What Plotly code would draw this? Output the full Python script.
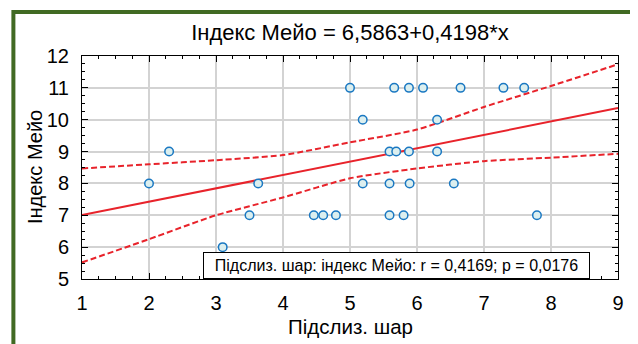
import plotly.graph_objects as go
import numpy as np

# --- data ---
x_vals = [2.0, 2.3, 3.1, 3.5, 3.63,
          5.0, 5.66, 5.88, 6.09, 6.65, 7.29, 7.6,
          5.19, 6.3,
          5.59, 5.69, 5.88, 6.3,
          5.19, 5.59, 5.89, 6.55,
          4.46, 4.6, 4.79, 5.59, 5.8, 7.79]
y_vals = [8, 9, 6, 7, 8,
          11, 11, 11, 11, 11, 11, 11,
          10, 10,
          9, 9, 9, 9,
          8, 8, 8, 8,
          7, 7, 7, 7, 7, 7]

intercept = 6.5863
slope = 0.4198

band_x = [1, 2, 3, 4, 5, 6, 7, 8, 9]
band_upper = [8.47, 8.60, 8.73, 8.89, 9.29, 9.69, 10.40, 11.06, 11.74]
band_lower = [5.52, 6.25, 7.00, 7.56, 8.16, 8.47, 8.70, 8.81, 8.93]

title_text = "Індекс Мейо = 6,5863+0,4198*x"
x_title = "Підслиз. шар"
y_title = "Індекс Мейо"
stat_text = "Підслиз. шар: індекс Мейо: r = 0,4169; p = 0,0176"

x_range = [1, 9]
y_range = [5, 12]

FONT = "Liberation Sans"
RED = "#e8232b"

fig = go.Figure()

line_x = np.array(x_range, dtype=float)
fig.add_trace(go.Scatter(x=line_x, y=intercept + slope * line_x, mode="lines",
                         line=dict(color=RED, width=2), hoverinfo="skip",
                         showlegend=False))
fig.add_trace(go.Scatter(x=band_x, y=band_upper, mode="lines",
                         line=dict(color=RED, width=2, dash="6px,3px", shape="spline", smoothing=0.6),
                         showlegend=False))
fig.add_trace(go.Scatter(x=band_x, y=band_lower, mode="lines",
                         line=dict(color=RED, width=2, dash="6px,3px", shape="spline", smoothing=0.6),
                         showlegend=False))
fig.add_trace(go.Scatter(x=x_vals, y=y_vals, mode="markers",
                         marker=dict(symbol="circle", size=8.5, color="#dcefef",
                                     line=dict(color="#1a78c2", width=1.5)),
                         showlegend=False))

axis_common = dict(
    showline=True, linecolor="black", linewidth=1, mirror="allticks",
    ticks="inside", ticklen=6, tickcolor="black", tickwidth=1,
    showgrid=True, gridcolor="#d3d3d3", gridwidth=1.5,
    zeroline=False, dtick=1, automargin=False,
    tickfont=dict(family=FONT, size=20, color="black"),
)

fig.update_xaxes(range=x_range, tick0=1, ticklabelstandoff=6,
                 minor=dict(dtick=0.25, ticks="inside", ticklen=3, tickcolor="black", showgrid=False),
                 **axis_common)
fig.update_yaxes(range=y_range, tick0=5, ticklabelstandoff=8,
                 minor=dict(dtick=0.25, ticks="inside", ticklen=3, tickcolor="black", showgrid=False),
                 **axis_common)

# axis titles
fig.add_annotation(x=0.5, y=-0.211, xref="paper", yref="paper", text=x_title, showarrow=False,
                   font=dict(family=FONT, size=20.5, color="black"),
                   xanchor="center", yanchor="middle")
fig.add_annotation(x=-0.0877, y=0.502, xref="paper", yref="paper", text=y_title, showarrow=False,
                   textangle=-90, font=dict(family=FONT, size=20, color="black"),
                   xanchor="center", yanchor="middle")

fig.add_annotation(x=5.70, y=5.42, xref="x", yref="y", text=stat_text, showarrow=False,
                   font=dict(family=FONT, size=16, color="black"),
                   bgcolor="white", bordercolor="black", borderwidth=1, borderpad=2,
                   width=381, height=21, xanchor="center", yanchor="middle")

# green frame (page body offsets the figure by 8px, compensated in margins)
fig.add_shape(type="rect", xref="paper", yref="paper",
              x0=-0.128, x1=1.0326, y0=-0.34, y1=1.197,
              line=dict(color="#416a23", width=4), layer="below")

fig.update_layout(
    width=638, height=344,
    margin=dict(l=74, r=28, t=48, b=73),
    paper_bgcolor="white", plot_bgcolor="white",
    title=dict(text=title_text, x=0.5, xref="paper", y=0.930, yref="container",
               xanchor="center", yanchor="middle",
               font=dict(family=FONT, size=22, color="black")),
    showlegend=False,
)

fig.write_html("out.html")
